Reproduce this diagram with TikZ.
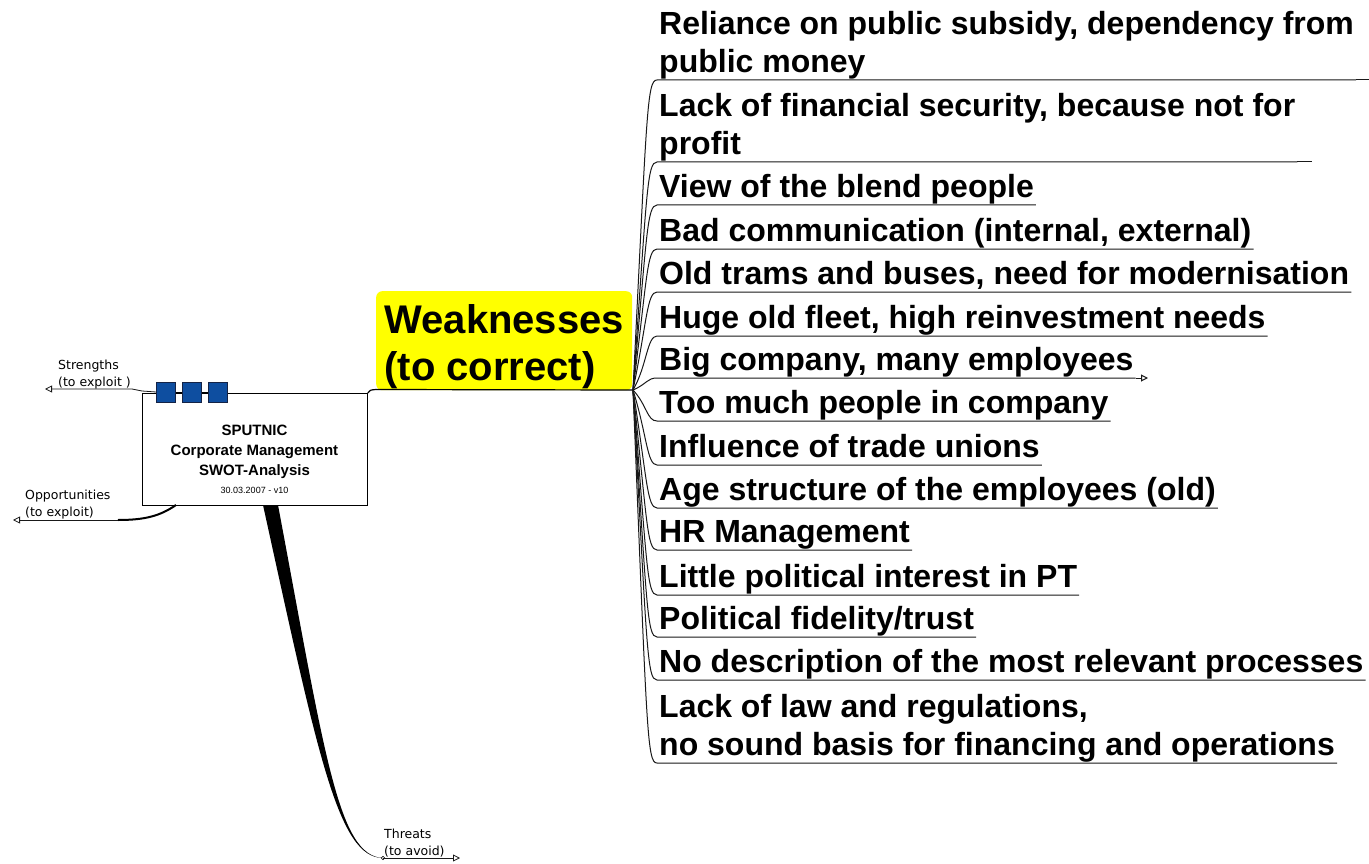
\documentclass[tikz,border=0pt]{standalone}
\usepackage{fontspec}
\setmainfont{Liberation Sans}
\newfontfamily\labelfont{DejaVu Sans}
\usetikzlibrary{arrows.meta,calc}
\newcommand\mydp{\rule[-7pt]{0pt}{7pt}}
\definecolor{sqblue}{RGB}{14,78,160}
\definecolor{sqedge}{RGB}{20,35,70}
\definecolor{wyellow}{RGB}{255,255,0}
\begin{document}
\begin{tikzpicture}[x=1pt,y=-1pt,
  item/.style={anchor=south west, inner xsep=2pt, inner ysep=0pt,
    font=\fontsize{32}{38}\selectfont\bfseries, align=left},
  br/.style={line width=1pt, black!90},
  lbl/.style={font=\labelfont\fontsize{12.5}{17}\selectfont, align=left, inner sep=0pt, anchor=base west},
  sq/.style={draw=sqedge, fill=sqblue, line width=0.8pt, minimum width=19pt, minimum height=20pt, inner sep=0pt},
  otip/.style={-{Triangle[open,length=7pt,width=7pt]}}
]
\useasboundingbox (0,0) rectangle (1369,864);
\fill[white] (0,0) rectangle (1369,864);

% central box
\node[draw, line width=0.8pt, minimum width=225pt, minimum height=112pt, inner sep=0pt, anchor=north west] (core) at (142,393) {};
\node[font=\fontsize{15}{20}\selectfont\bfseries, align=center, inner sep=0pt] (title) at (254.5,459)
  {SPUTNIC\\Corporate Management\\SWOT-Analysis\\[-2pt]{\mdseries\fontsize{9}{10}\selectfont 30.03.2007 - v10}};

% squares
\draw[line width=0.8pt] (157,392) -- (227,392);
\node[sq] (sq1) at (166,392) {};
\node[sq] (sq2) at (192,392) {};
\node[sq] (sq3) at (218,392) {};

% Strengths
\node[lbl] (str) at (58,386) {Strengths\\(to exploit )};
\coordinate (strtip) at (45,389);
\draw[br, line width=0.8pt, otip] (sq1.west) -- (142,391) -- (132,389) -- (strtip);

% Opportunities
\node[lbl] (opp) at (25,516) {Opportunities\\(to exploit)};
\coordinate (opproot) at (176,505);
\coordinate (oppbend) at (118,520);
\coordinate (opptip) at (13,520);
\draw[line width=2pt] (opproot) .. controls (160,516) and (145,520) .. (oppbend);
\draw[br, line width=0.8pt, otip] (oppbend) -- (opptip);

% Threats
\node[lbl] (thr) at (384,855) {Threats\\(to avoid)};
\coordinate (thrroot) at (383,858);
\coordinate (thrtip) at (460,858);
\fill (263,505) .. controls (318,755) and (338,858) .. (thrroot) .. controls (338,856) and (325,755) .. (278,505) -- cycle;
\draw[line width=0.6pt] (thrroot) circle (1.8pt);
\draw[br, line width=0.8pt, otip] (thrroot) -- (thrtip);

% Weaknesses
\node[fill=wyellow, rounded corners=6pt, minimum width=256pt, minimum height=99pt, inner sep=0pt,
  font=\fontsize{40}{47}\selectfont\bfseries, align=left, anchor=north west] (weak) at (376,291)
  {\rule{0pt}{40pt}Weaknesses\\(to correct)};
\coordinate (root) at (633,390);
\draw[line width=1.2pt] (core.north east) .. controls (370,390) .. (376,389.5) -- (root);

% items
\node[item] (i1) at (657,80) {Reliance on public subsidy, dependency from\\public money\mydp};
\node[item] (i2) at (657,162) {Lack of financial security, because not for\\profit\mydp};
\node[item] (i3) at (657,205) {View of the blend people\mydp};
\node[item] (i4) at (657,249) {Bad communication (internal, external)\mydp};
\node[item] (i5) at (657,292) {Old trams and buses, need for modernisation\mydp};
\node[item] (i6) at (657,336) {Huge old fleet, high reinvestment needs\mydp};
\node[item] (i7) at (657,378) {Big company, many employees\mydp};
\node[item] (i8) at (657,421) {Too much people in company\mydp};
\node[item] (i9) at (657,465) {Influence of trade unions\mydp};
\node[item] (i10) at (657,508) {Age structure of the employees (old)\mydp};
\node[item] (i11) at (657,550) {HR Management\mydp};
\node[item] (i12) at (657,595) {Little political interest in PT\mydp};
\node[item] (i13) at (657,637) {Political fidelity/trust\mydp};
\node[item] (i14) at (657,680) {No description of the most relevant processes\mydp};
\node[item] (i15) at (657,763) {Lack of law and regulations,\\no sound basis for financing and operations\mydp};

\foreach \n/\y/\c in {1/80/110, 2/162/192, 3/205/235, 4/249/279, 5/292/322, 6/336/366,
  7/378/384, 8/421/405, 9/465/435, 10/508/478, 11/550/520, 12/595/565, 13/637/607,
  14/680/650, 15/763/733}
  \draw[br] (root) .. controls (647,\c) and (647,\y) .. (i\n.south west) -- (i\n.south east);

\coordinate (e1) at (1369,80);
\coordinate (e2) at (1312,162);
\coordinate (e7) at (1148,378);
\draw[br] (i1.south east) -- (e1);
\draw[br] (i2.south east) -- (e2);
\draw[br, otip] (i7.south east) -- (e7);
\end{tikzpicture}
\end{document}
